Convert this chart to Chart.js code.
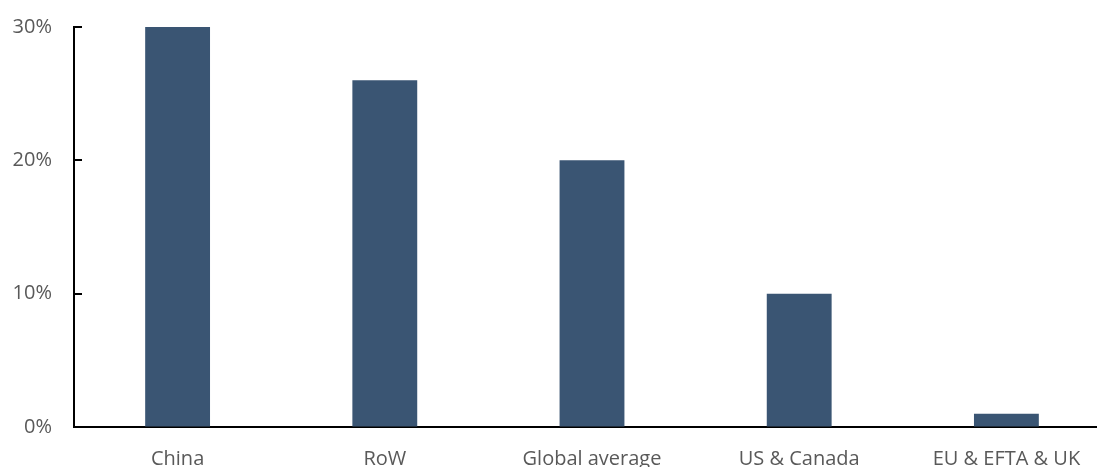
<!DOCTYPE html>
<html>
<head>
<meta charset="utf-8">
<script src="https://cdn.jsdelivr.net/npm/chart.js@4"></script>
<style>
  html, body { margin: 0; padding: 0; background: #fff; overflow: hidden; }
  #wrap { width: 1112px; height: 480px; }
</style>
</head>
<body>
<div id="wrap"><canvas id="barChart" width="1112" height="480"></canvas></div>
<script>
// 各地區數值 (%)
const regions = ['China', 'RoW', 'Global average', 'US & Canada', 'EU & EFTA & UK'];
const shares = [30, 26, 20, 10, 1];
const yTicks = [0, 10, 20, 30];

const textColor = '#595959';
const axisColor = '#000000';

// y 軸內側的小刻度線
const innerTicks = {
    id: 'innerTicks',
    afterDatasetsDraw(chart) {
        const y = chart.scales.y;
        const c = chart.ctx;
        c.save();
        c.strokeStyle = axisColor;
        c.lineWidth = 2;
        yTicks.forEach(v => {
            const py = Math.round(y.getPixelForValue(v));
            c.beginPath();
            c.moveTo(y.right, py);
            c.lineTo(y.right + 8, py);
            c.stroke();
        });
        c.restore();
    }
};

const ctx = document.getElementById('barChart').getContext('2d');
new Chart(ctx, {
    type: 'bar',
    data: {
        labels: regions,
        datasets: [{
            data: shares,
            backgroundColor: '#3A5573',
            barPercentage: 0.313,
            categoryPercentage: 1
        }]
    },
    options: {
        responsive: false,
        animation: false,
        layout: { padding: { top: 27, right: 2, left: 0, bottom: 0 } },
        plugins: {
            legend: { display: false },
            tooltip: { enabled: false }
        },
        scales: {
            x: {
                grid: { display: false, drawTicks: false },
                border: { display: true, color: axisColor, width: 2 },
                ticks: {
                    color: textColor,
                    font: { family: 'Open Sans', size: 20 },
                    padding: 20,
                    maxRotation: 0
                },
                afterFit(s) {
                    s.height = 53;
                    s.paddingLeft = 0;
                    s.paddingRight = 0;
                }
            },
            y: {
                min: 0,
                max: 30,
                grid: { display: true, drawOnChartArea: false, drawTicks: false },
                border: { display: true, color: axisColor, width: 2 },
                ticks: {
                    stepSize: 10,
                    color: textColor,
                    font: { family: 'Open Sans', size: 20 },
                    padding: 22,
                    callback: v => v + '%'
                },
                afterFit(s) {
                    s.width = 74;
                    s.paddingTop = 0;
                    s.paddingBottom = 0;
                }
            }
        }
    },
    plugins: [innerTicks]
});
</script>
</body>
</html>
